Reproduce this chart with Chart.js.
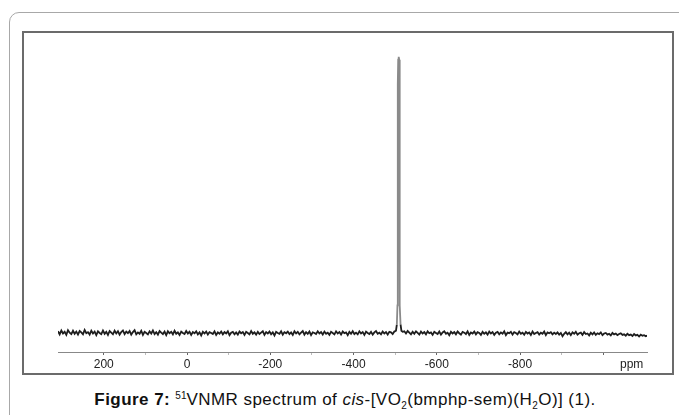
<!DOCTYPE html>
<html>
<head>
<meta charset="utf-8">
<script src="https://cdn.jsdelivr.net/npm/chart.js@4/dist/chart.umd.min.js"></script>
<style>
  body { margin: 0; background: #fff; width: 679px; height: 415px; overflow: hidden; position: relative; font-family: "Liberation Sans", Arial, sans-serif; }
  #frame { position: absolute; left: 9px; top: 12px; width: 700px; height: 450px; border: 1px solid #a8a8a8; border-top-left-radius: 10px; }
  #box { position: absolute; left: 22px; top: 31px; width: 648px; height: 340px; border: 2px solid #6b6b6b; }
  #myChart { position: absolute; left: 0; top: 0; }
  #unit { position: absolute; left: 620px; top: 357px; font-size: 12px; color: #222; }
  #caption { position: absolute; left: 0; width: 690px; top: 390px; text-align: center; font-size: 17px; letter-spacing: 0.45px; color: #111; white-space: nowrap; }
  #caption sup { font-size: 10px; vertical-align: 6px; line-height: 0; letter-spacing: 0; }
  #caption sub { font-size: 10px; vertical-align: -4px; line-height: 0; }
</style>
</head>
<body>
<div id="frame"></div>
<div id="box"><canvas id="myChart" width="648" height="340"></canvas></div>
<div id="unit">ppm</div>
<div id="caption"><b>Figure 7:</b> <sup>51</sup>VNMR spectrum of <i>cis</i>-[VO<sub>2</sub>(bmphp-sem)(H<sub>2</sub>O)] (1).</div>
<script>
// baseline sampled every 4 ppm from 310 down to -1106 ppm
const ppmStart = 310;
const ppmStep = -4;
const baseline = [
    0.6,-0.5,0.9,-0.2,0.4,-0.7,1.0,0.1,-0.4,0.8,-0.3,0.5,-0.6,0.7,0.2,-0.5,1.1,-0.1,0.3,-0.6,
    0.8,-0.2,0.5,-0.8,0.6,0.0,-0.4,0.9,-0.3,0.4,-0.7,0.7,0.1,-0.5,0.8,-0.2,0.6,-0.6,0.3,0.9,
    -0.4,0.5,-0.1,0.7,-0.6,0.3,1.0,-0.5,0.2,-0.3,0.8,-0.7,0.4,0.0,-0.5,0.6,-0.2,0.9,-0.4,0.3,
    -0.6,0.7,0.1,-0.4,0.5,-0.8,0.6,-0.1,0.4,-0.5,0.8,-0.3,0.2,-0.7,0.5,0.0,-0.4,0.7,-0.2,0.4,
    -0.7,0.3,-0.1,0.6,-0.5,0.2,-0.9,0.4,-0.2,0.5,-0.6,0.3,0.0,-0.4,0.6,-0.7,0.2,-0.3,0.5,-0.5,
    0.3,-0.2,0.6,-0.8,0.1,0.4,-0.5,0.2,-0.6,0.5,-0.1,0.3,-0.7,0.4,0.0,-0.5,0.7,-0.3,0.2,-0.6,
    0.4,-0.4,0.1,0.6,-0.7,0.3,-0.2,0.5,-0.5,0.2,-0.9,0.4,0.0,-0.3,0.6,-0.6,0.3,-0.1,0.5,-0.4,
    0.2,-0.7,0.6,-0.2,0.4,-0.5,0.1,0.7,-0.6,0.3,-0.3,0.5,-0.8,0.2,0.0,-0.4,0.6,-0.2,0.3,-0.6,
    0.5,-0.3,0.1,-0.7,0.4,0.0,-0.5,0.6,-0.2,0.3,-0.6,0.5,-0.1,0.2,-0.8,0.4,-0.3,0.6,-0.4,0.1,
    -0.5,0.6,-0.2,0.3,-0.7,0.5,0.0,-0.4,0.4,-0.6,0.2,0.7,-0.3,0.1,-0.5,0.5,-0.2,0.3,-0.6,0.4,
    0.2,-0.4,0.5,0,0,0,0,0.4,0.6,-0.2,0.7,0.1,-0.5,0.4,-0.3,0.6,0.0,-0.6,0.5,-0.2,
    0.3,-0.5,0.6,-0.1,0.2,-0.7,0.4,0.0,-0.4,0.5,-0.6,0.2,0.6,-0.3,0.1,-0.8,0.4,-0.2,0.3,-0.5,
    0.5,-0.1,-0.6,0.4,0.1,-0.4,0.6,-0.7,0.2,-0.2,0.5,-0.5,0.3,0.0,-0.7,0.4,-0.3,0.2,-0.6,0.5,
    -0.2,0.3,-0.7,0.1,0.4,-0.5,0.2,-0.3,0.6,-0.8,0.1,-0.1,0.4,-0.6,0.3,0.0,-0.5,0.5,-0.3,0.1,
    -0.6,0.4,-0.2,0.2,-0.7,0.5,-0.4,0.0,0.3,-0.6,0.1,-0.3,0.5,-0.8,0.2,-0.1,0.3,-0.5,0.1,-0.4,
    0.2,-0.6,0.0,-1.2,-0.3,0.3,-0.5,0.1,-0.8,0.2,-0.3,0.4,-0.6,-0.1,0.1,-0.7,0.3,-0.4,-0.2,-0.9,
    0.1,-0.5,0.2,-0.7,-0.1,-0.4,0.2,-0.8,-0.2,0.0,-0.6,-0.3,-0.9,0.0,-0.5,-0.2,-0.8,-0.4,-0.1,-0.7,
    -0.5,-1.0,-0.3,-0.8,-0.6,-1.1,-0.4,-0.9,-0.7,-1.3,-0.6,-1.0,-0.8,-1.2,-0.9
];
// the vanadium signal near -508 ppm
const peakPpm = [-502, -504, -505.5, -506, -506.3, -506.6, -507.3, -508.5, -509.7, -510.4, -510.7, -511, -511.5, -513, -515];
const peakVal = [0.8, 3, 10, 30, 60, 90, 99, 100, 99, 90, 60, 30, 10, 3, 0.8];

const points = [];
baseline.forEach((v, i) => {
    const x = ppmStart + i * ppmStep;
    if (x > -501 || x < -516) points.push({ x: x, y: v });
});
peakPpm.forEach((x, i) => points.push({ x: x, y: peakVal[i] }));
points.sort((a, b) => b.x - a.x);

const ctx = document.getElementById('myChart').getContext('2d');
const myChart = new Chart(ctx, {
    type: 'line',
    data: {
        datasets: [{
            data: points,
            borderColor: '#1e1e1e',
            borderWidth: 1.8,
            pointRadius: 0,
            tension: 0,
            // the tall peak is printed as a thin grey trace in the original
            segment: {
                borderColor: s => (s.p0.parsed.y > 8 || s.p1.parsed.y > 8) ? '#8a8a8a' : undefined
            }
        }]
    },
    options: {
        responsive: false,
        animation: false,
        layout: { padding: { left: 34, right: 25, top: 12, bottom: 0 } },
        scales: {
            x: {
                type: 'linear',
                reverse: true,
                min: -1105,
                max: 310,
                afterBuildTicks: s => { s.ticks = s.ticks.filter(t => t.value % 100 === 0); },
                afterFit: s => { s.height = 21; },
                ticks: {
                    stepSize: 100,
                    autoSkip: false,
                    maxRotation: 0,
                    padding: 2,
                    color: '#222',
                    font: { family: '"Liberation Sans", Arial, sans-serif', size: 12 },
                    callback: v => (v % 200 === 0 && v !== -1000) ? v : ''
                },
                grid: {
                    drawOnChartArea: false,
                    tickLength: 3,
                    color: c => (c.tick && c.tick.value % 200 === 0) ? '#666' : '#bbb'
                },
                border: { color: '#888', width: 1 }
            },
            y: {
                display: false,
                min: -6.9,
                max: 104.3
            }
        },
        plugins: {
            legend: { display: false },
            tooltip: { enabled: false }
        }
    }
});
</script>
</body>
</html>
